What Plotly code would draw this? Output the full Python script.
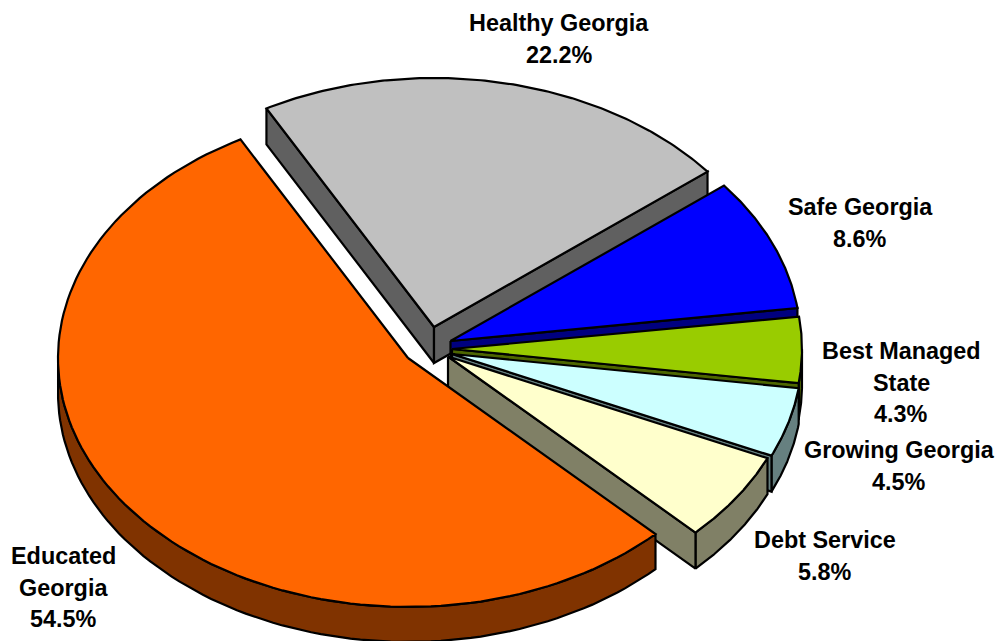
import numpy as np
import plotly.graph_objects as go

# Data
categories = ["Educated Georgia", "Healthy Georgia", "Safe Georgia",
              "Best Managed State", "Growing Georgia", "Debt Service"]
values = [54.5, 22.2, 8.6, 4.3, 4.5, 5.8]
label_lines = [["Educated", "Georgia"], ["Healthy Georgia"], ["Safe Georgia"],
               ["Best Managed", "State"], ["Growing Georgia"], ["Debt Service"]]

# Styles
top_colors = ["#FF6600", "#C0C0C0", "#0000FF", "#99CC00", "#CCFFFF", "#FFFFCC"]
wall_colors = ["#803300", "#606060", "#000080", "#4D6600", "#668080", "#808066"]

# Layout of the tilted pie
W, H = 995, 641
RX, RY = 350, 249
START_DEG = 135
apex_x = [408, 434, 450.5, 452, 452, 448]
apex_y = [358, 327, 341, 349, 354, 356.5]
depth = [35, 36, 36, 36, 36, 36]
draw_order = [1, 2, 3, 4, 5, 0]
label_x = [63, 559, 860, 901, 899, 825]
label_y = [556, 23, 207, 351, 450, 540]
LINE_STEP = 31.5

total = sum(values)
edges = START_DEG + np.concatenate([[0], np.cumsum(values)]) / total * 360


def add_face(fig, xs, ys, color):
    fig.add_trace(go.Scatter(
        x=list(xs) + [xs[0]], y=list(ys) + [ys[0]], mode="lines", fill="toself",
        fillcolor=color, line=dict(color="black", width=2.2),
        hoverinfo="skip", showlegend=False))


fig = go.Figure()
for i in draw_order:
    ang = np.radians(np.linspace(edges[i], edges[i + 1], 120))
    ax, ay, d = apex_x[i], apex_y[i], depth[i]
    ex = ax + RX * np.sin(ang)
    ey = ay - RY * np.cos(ang)
    # rim face: only the part that turns towards the viewer
    front = np.cos(ang) < 0
    if front.sum() > 1:
        fx, fy = ex[front], ey[front]
        add_face(fig, np.concatenate([fx, fx[::-1]]), np.concatenate([fy, fy[::-1] + d]), wall_colors[i])
    # cut faces: the start cut shows if it points left, the end cut if it points right
    if np.sin(ang[0]) < 0:
        add_face(fig, [ax, ex[0], ex[0], ax], [ay, ey[0], ey[0] + d, ay + d], wall_colors[i])
    if np.sin(ang[-1]) > 0:
        add_face(fig, [ax, ex[-1], ex[-1], ax], [ay, ey[-1], ey[-1] + d, ay + d], wall_colors[i])
    # top face
    add_face(fig, np.concatenate([[ax], ex]), np.concatenate([[ay], ey]), top_colors[i])

annotations = []
for i, lines in enumerate(label_lines):
    texts = lines + [f"{values[i]}%"]
    for j, t in enumerate(texts):
        annotations.append(dict(
            x=label_x[i], y=label_y[i] + j * LINE_STEP, text=f"<b>{t}</b>", showarrow=False,
            xanchor="center", yanchor="middle", xref="x", yref="y",
            font=dict(family="Liberation Sans", size=23.4, color="black")))

fig.update_layout(
    width=W, height=H, margin=dict(l=0, r=0, t=0, b=0),
    paper_bgcolor="white", plot_bgcolor="white", annotations=annotations,
    xaxis=dict(range=[0, W], visible=False, fixedrange=True),
    yaxis=dict(range=[H, 0], visible=False, fixedrange=True),
)
fig.write_html("out.html", config={"displayModeBar": False},
               post_script="document.body.style.margin='0';document.body.style.overflow='hidden';")
